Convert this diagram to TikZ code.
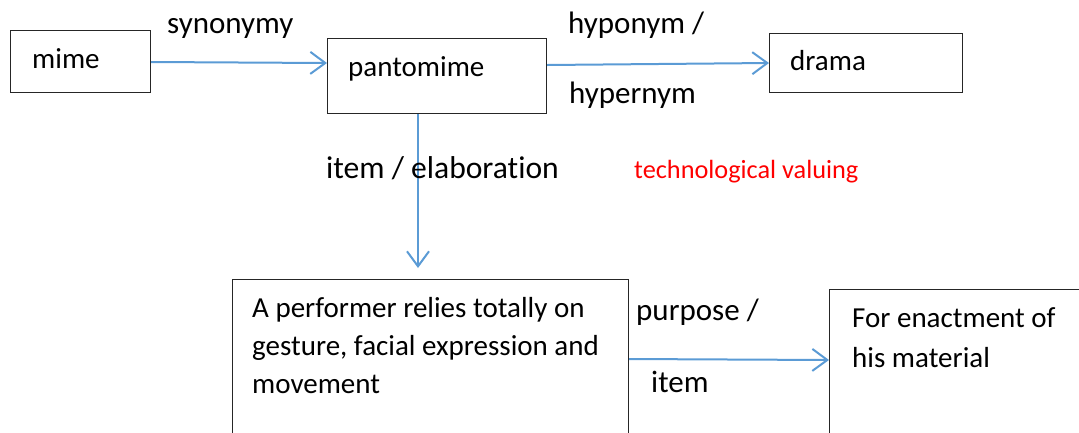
\documentclass[tikz,border=0pt]{standalone}
\usepackage{fontspec}
\setmainfont{Carlito}[Ligatures={NoCommon}]
\usetikzlibrary{arrows.meta,calc}
\definecolor{arrblue}{HTML}{5B9BD5}
\tikzset{
  box/.style={draw=black!85, line width=1.2pt, anchor=north west, inner sep=0pt},
  arr/.style={draw=arrblue, line width=2pt, -{Straight Barb[length=15pt,width=22pt,line width=2pt]}},
  boxtext/.style={anchor=base west, inner sep=0pt, font=\fontsize{29}{34}\selectfont},
  lbl/.style={anchor=base west, inner sep=0pt, font=\fontsize{31}{36}\selectfont},
}
\begin{document}
\begin{tikzpicture}[x=1pt,y=-1pt]
\useasboundingbox (0,0) rectangle (1079,432);
\clip (0,0) rectangle (1079,432);
% boxes
\node[box, minimum width=140pt, minimum height=62pt] (mime) at (10,30) {};
\node[box, minimum width=219pt, minimum height=75pt] (pant) at (327,38) {};
\node[box, minimum width=193pt, minimum height=59pt] (drama) at (769,33) {};
\node[box, minimum width=396pt, minimum height=180pt] (perf) at (232,279) {};
\node[box, minimum width=270pt, minimum height=170pt] (enact) at (829,289) {};
% box texts
\node[boxtext] (tmime) at (32,68) {mime};
\node[boxtext] (tpant) at (348,76) {pantomime};
\node[boxtext] (tdrama) at (790,70) {drama};
\node[boxtext] (tperf1) at (252,317) {A performer relies totally on};
\node[boxtext] (tperf2) at (252,355) {gesture, facial expression and};
\node[boxtext] (tperf3) at (252,393) {movement};
\node[boxtext] (tenact1) at (852,327) {For enactment of};
\node[boxtext] (tenact2) at (852,367) {his material};
% connectors
\draw[arr] ($(mime.north east)+(0,32)$) -- ($(pant.north west)+(0,25)$);
\draw[arr] ($(pant.north east)+(0,27)$) -- ($(drama.north west)+(0,30)$);
\draw[arr] ($(pant.south west)+(91,0)$) -- ($(perf.north west)+(186,-11)$);
\draw[arr] ($(perf.north east)+(0,80)$) -- ($(enact.north west)+(0,71)$);
% labels
\node[lbl] (lsyn) at (167,33) {synonymy};
\node[lbl] (lhypo) at (568,33) {hyponym /};
\node[lbl] (lhyper) at (569,103) {hypernym};
\node[anchor=base west, inner sep=0pt, font=\fontsize{31.6}{36}\selectfont] (litem) at (326,178) {item / elaboration};
\node[anchor=base west, inner sep=0pt, text=red, font=\fontsize{26.3}{30}\selectfont] (ltech) at (634,178) {technological valuing};
\node[lbl] (lpurp) at (636,320) {purpose /};
\node[lbl] (litem2) at (651,392) {item};
\end{tikzpicture}
\end{document}
